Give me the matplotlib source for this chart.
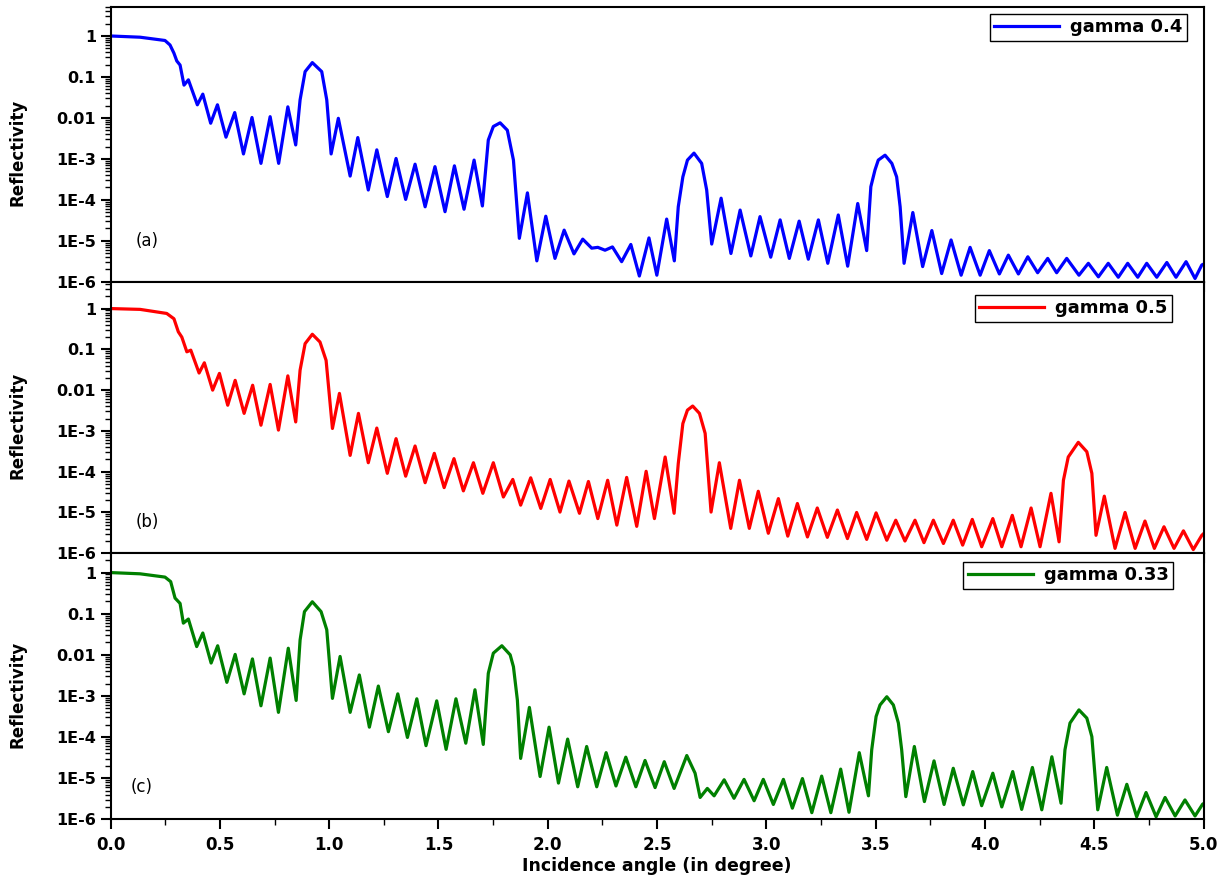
import numpy as np
import matplotlib
matplotlib.use("Agg")
import matplotlib.pyplot as plt
from matplotlib.ticker import (FixedLocator, FixedFormatter, LogLocator,
                               NullFormatter, MultipleLocator)

# values: incidence angle (deg) and log10(reflectivity)

# panel (a), gamma 0.4
a_x = [0.0, 0.135, 0.249, 0.272, 0.290, 0.303, 0.318, 0.336, 0.356, 0.397,
       0.422, 0.458, 0.489, 0.528, 0.568, 0.608, 0.647, 0.688, 0.730, 0.769,
       0.811, 0.847, 0.867, 0.890, 0.923, 0.966, 0.989, 1.009, 1.042, 1.096,
       1.131, 1.179, 1.218, 1.266, 1.306, 1.350, 1.393, 1.439, 1.484, 1.530,
       1.573, 1.617, 1.663, 1.701, 1.728, 1.751, 1.782, 1.815, 1.843, 1.870,
       1.907, 1.950, 1.991, 2.033, 2.075, 2.120, 2.160, 2.201, 2.229, 2.262,
       2.296, 2.338, 2.380, 2.419, 2.463, 2.499, 2.544, 2.579, 2.597, 2.618,
       2.639, 2.669, 2.704, 2.727, 2.750, 2.793, 2.838, 2.880, 2.929, 2.971,
       3.020, 3.063, 3.105, 3.150, 3.192, 3.238, 3.281, 3.329, 3.372, 3.418,
       3.459, 3.478, 3.497, 3.512, 3.543, 3.574, 3.596, 3.612, 3.630, 3.670,
       3.715, 3.757, 3.802, 3.845, 3.891, 3.932, 3.978, 4.020, 4.066, 4.107,
       4.153, 4.196, 4.241, 4.287, 4.328, 4.374, 4.430, 4.473, 4.519, 4.564,
       4.610, 4.653, 4.699, 4.740, 4.786, 4.832, 4.874, 4.920, 4.961, 4.992,
       5.0]
a_log = [0, -0.03, -0.11, -0.22, -0.42, -0.61, -0.71, -1.20, -1.07, -1.68,
         -1.42, -2.13, -1.68, -2.47, -1.87, -2.88, -1.99, -3.11, -1.97, -3.11,
         -1.73, -2.66, -1.56, -0.87, -0.65, -0.87, -1.56, -2.88, -2.01, -3.42,
         -2.48, -3.76, -2.78, -3.92, -2.99, -3.99, -3.13, -4.17, -3.19, -4.29,
         -3.17, -4.23, -3.03, -4.15, -2.54, -2.21, -2.12, -2.30, -3.03, -4.94,
         -3.83, -5.49, -4.40, -5.43, -4.74, -5.32, -4.96, -5.18, -5.16, -5.23,
         -5.15, -5.51, -5.09, -5.86, -4.93, -5.84, -4.47, -5.49, -4.17, -3.44,
         -3.03, -2.86, -3.11, -3.76, -5.08, -3.96, -5.31, -4.25, -5.37, -4.41,
         -5.40, -4.49, -5.43, -4.52, -5.45, -4.49, -5.55, -4.37, -5.62, -4.09,
         -5.24, -3.68, -3.27, -3.03, -2.91, -3.11, -3.44, -4.17, -5.55, -4.31,
         -5.63, -4.75, -5.80, -4.98, -5.84, -5.16, -5.84, -5.24, -5.81, -5.35,
         -5.81, -5.39, -5.78, -5.43, -5.78, -5.43, -5.84, -5.55, -5.88, -5.55,
         -5.89, -5.55, -5.89, -5.55, -5.89, -5.53, -5.89, -5.51, -5.92, -5.59,
         -5.57]

# panel (b), gamma 0.5
b_x = [0.0, 0.135, 0.257, 0.290, 0.310, 0.326, 0.349, 0.367, 0.405, 0.429,
       0.467, 0.498, 0.536, 0.570, 0.611, 0.650, 0.688, 0.730, 0.768, 0.811,
       0.847, 0.867, 0.890, 0.923, 0.958, 0.986, 1.015, 1.047, 1.096, 1.134,
       1.179, 1.218, 1.266, 1.306, 1.350, 1.393, 1.439, 1.481, 1.526, 1.571,
       1.614, 1.660, 1.703, 1.751, 1.797, 1.840, 1.876, 1.922, 1.968, 2.011,
       2.056, 2.097, 2.145, 2.186, 2.229, 2.274, 2.316, 2.361, 2.407, 2.450,
       2.488, 2.537, 2.578, 2.597, 2.618, 2.639, 2.663, 2.694, 2.720, 2.747,
       2.785, 2.837, 2.877, 2.922, 2.963, 3.009, 3.055, 3.098, 3.142, 3.188,
       3.233, 3.279, 3.325, 3.371, 3.413, 3.459, 3.502, 3.551, 3.592, 3.634,
       3.680, 3.721, 3.764, 3.810, 3.855, 3.898, 3.942, 3.985, 4.036, 4.077,
       4.125, 4.165, 4.211, 4.252, 4.302, 4.339, 4.359, 4.381, 4.427, 4.466,
       4.489, 4.508, 4.546, 4.595, 4.641, 4.687, 4.732, 4.775, 4.819, 4.865,
       4.908, 4.953, 4.992, 5.0]
b_log = [0, -0.02, -0.12, -0.25, -0.57, -0.70, -1.06, -1.02, -1.58, -1.33,
         -2.00, -1.59, -2.37, -1.76, -2.57, -1.88, -2.86, -1.86, -2.98, -1.65,
         -2.78, -1.51, -0.86, -0.63, -0.82, -1.27, -2.94, -2.08, -3.60, -2.57,
         -3.78, -2.93, -4.04, -3.19, -4.11, -3.37, -4.27, -3.55, -4.39, -3.68,
         -4.47, -3.78, -4.53, -3.78, -4.62, -4.19, -4.82, -4.15, -4.90, -4.19,
         -4.99, -4.23, -5.02, -4.24, -5.15, -4.21, -5.31, -4.14, -5.34, -3.99,
         -5.15, -3.64, -5.02, -3.80, -2.82, -2.49, -2.39, -2.57, -3.06, -4.99,
         -3.78, -5.39, -4.21, -5.39, -4.48, -5.51, -4.66, -5.58, -4.78, -5.60,
         -4.89, -5.61, -4.94, -5.64, -5.00, -5.66, -5.01, -5.68, -5.19, -5.70,
         -5.19, -5.74, -5.19, -5.76, -5.19, -5.80, -5.17, -5.84, -5.15, -5.84,
         -5.07, -5.84, -4.89, -5.84, -4.53, -5.72, -4.21, -3.64, -3.28, -3.51,
         -4.04, -5.56, -4.60, -5.88, -5.00, -5.88, -5.21, -5.88, -5.35, -5.88,
         -5.45, -5.91, -5.56, -5.52]

# panel (c), gamma 0.33
c_x = [0.0, 0.135, 0.249, 0.275, 0.295, 0.318, 0.333, 0.356, 0.394, 0.422,
       0.460, 0.490, 0.532, 0.570, 0.611, 0.649, 0.688, 0.730, 0.768, 0.813,
       0.849, 0.867, 0.887, 0.923, 0.963, 0.989, 1.015, 1.050, 1.096, 1.138,
       1.184, 1.225, 1.271, 1.314, 1.358, 1.401, 1.443, 1.492, 1.535, 1.580,
       1.625, 1.667, 1.705, 1.728, 1.751, 1.790, 1.828, 1.843, 1.861, 1.876,
       1.916, 1.965, 2.006, 2.049, 2.091, 2.137, 2.178, 2.224, 2.267, 2.312,
       2.357, 2.403, 2.445, 2.491, 2.533, 2.578, 2.636, 2.674, 2.697, 2.730,
       2.761, 2.807, 2.852, 2.898, 2.944, 2.986, 3.032, 3.078, 3.119, 3.165,
       3.208, 3.253, 3.295, 3.340, 3.378, 3.425, 3.467, 3.482, 3.502, 3.520,
       3.551, 3.581, 3.604, 3.619, 3.638, 3.677, 3.723, 3.767, 3.813, 3.855,
       3.901, 3.944, 3.985, 4.036, 4.077, 4.127, 4.168, 4.217, 4.260, 4.306,
       4.348, 4.366, 4.389, 4.430, 4.466, 4.489, 4.516, 4.557, 4.606, 4.649,
       4.694, 4.737, 4.783, 4.824, 4.870, 4.915, 4.961, 4.996, 5.0]
c_log = [0, -0.03, -0.11, -0.22, -0.62, -0.75, -1.23, -1.13, -1.80, -1.47,
         -2.20, -1.78, -2.67, -1.99, -2.95, -2.10, -3.24, -2.08, -3.40, -1.84,
         -3.11, -1.64, -0.95, -0.71, -0.95, -1.39, -3.06, -2.04, -3.40, -2.49,
         -3.76, -2.76, -3.87, -2.95, -4.01, -3.07, -4.21, -3.12, -4.30, -3.07,
         -4.15, -2.85, -4.18, -2.45, -1.96, -1.78, -2.00, -2.29, -3.10, -4.52,
         -3.28, -4.96, -3.76, -5.12, -4.05, -5.21, -4.23, -5.21, -4.38, -5.19,
         -4.49, -5.21, -4.57, -5.23, -4.60, -5.25, -4.45, -4.88, -5.47, -5.25,
         -5.43, -5.04, -5.49, -5.03, -5.55, -5.03, -5.64, -5.03, -5.73, -5.01,
         -5.84, -4.95, -5.84, -4.78, -5.83, -4.38, -5.43, -4.31, -3.50, -3.22,
         -3.02, -3.22, -3.66, -4.31, -5.45, -4.23, -5.57, -4.58, -5.64, -4.76,
         -5.65, -4.84, -5.67, -4.88, -5.70, -4.84, -5.76, -4.74, -5.77, -4.48,
         -5.61, -4.31, -3.66, -3.34, -3.54, -3.99, -5.77, -4.74, -5.90, -5.15,
         -5.94, -5.35, -5.94, -5.47, -5.92, -5.53, -5.92, -5.63, -5.62]

labels = ["gamma 0.4", "gamma 0.5", "gamma 0.33"]
colors = ["#0000ff", "#ff0000", "#008000"]
tags = ["(a)", "(b)", "(c)"]
y_ticks = [1e-6, 1e-5, 1e-4, 1e-3, 1e-2, 1e-1, 1]
y_tick_labels = ["1E-6", "1E-5", "1E-4", "1E-3", "0.01", "0.1", "1"]

plt.rcParams["font.family"] = ["DejaVu Sans"]
plt.rcParams["axes.linewidth"] = 1.5

fig = plt.figure(figsize=(12.23, 8.75), dpi=100)
left, width = 0.0904, 0.8937
ax_a = fig.add_axes([left, 0.678, width, 0.3136])
ax_b = fig.add_axes([left, 0.3677, width, 0.3101])
ax_c = fig.add_axes([left, 0.0637, width, 0.304])
axes = [ax_a, ax_b, ax_c]

data = [(a_x, a_log), (b_x, b_log), (c_x, c_log)]
y_tops = [5.0, 4.5, 2.95]
legend_anchor = [(0.985, 0.976), (0.971, 0.952), (0.972, 0.968)]
tag_pos = [(0.167, 1.0e-5), (0.17, 5.8e-6), (0.14, 6.2e-6)]

for i, ax in enumerate(axes):
    xs, logs = data[i]
    refl = 10 ** np.array(logs)
    ax.semilogy(xs, refl, color=colors[i], lw=2.3, label=labels[i],
                solid_joinstyle="round")
    ax.set_xlim(0, 5.0)
    ax.set_ylim(1e-6, y_tops[i])

    ax.yaxis.set_major_locator(FixedLocator(y_ticks))
    ax.yaxis.set_major_formatter(FixedFormatter(y_tick_labels))
    ax.yaxis.set_minor_locator(LogLocator(base=10, subs=np.arange(2, 10), numticks=20))
    ax.yaxis.set_minor_formatter(NullFormatter())
    ax.xaxis.set_major_locator(MultipleLocator(0.5))

    ax.tick_params(axis="both", which="major", direction="out", length=7, width=1.5)
    ax.tick_params(axis="both", which="minor", direction="out", length=4, width=1.0)
    for lab in ax.get_yticklabels():
        lab.set_fontweight("bold")
        lab.set_fontsize(11.5)

    ax.set_ylabel("Reflectivity", fontsize=12, fontweight="bold")
    ax.yaxis.set_label_coords(-0.0773, 0.47)

    ax.text(tag_pos[i][0], tag_pos[i][1], tags[i], fontsize=12, va="center", ha="center")

    leg = ax.legend(loc="upper right", bbox_to_anchor=legend_anchor[i],
                    borderaxespad=0, fancybox=False, edgecolor="black",
                    framealpha=1, handlelength=3.6, handletextpad=0.6,
                    borderpad=0.25, prop={"weight": "bold", "size": 13})
    leg.get_frame().set_linewidth(1.0)

ax_a.tick_params(axis="x", labelbottom=False)
ax_b.tick_params(axis="x", labelbottom=False)
ax_c.xaxis.set_minor_locator(MultipleLocator(0.25))
for lab in ax_c.get_xticklabels():
    lab.set_fontweight("bold")
    lab.set_fontsize(12)
ax_c.tick_params(axis="x", which="major", pad=5)
ax_c.set_xlabel("Incidence angle (in degree)", fontsize=12.5, fontweight="bold", labelpad=2)

fig.savefig("out.png", dpi=100)
